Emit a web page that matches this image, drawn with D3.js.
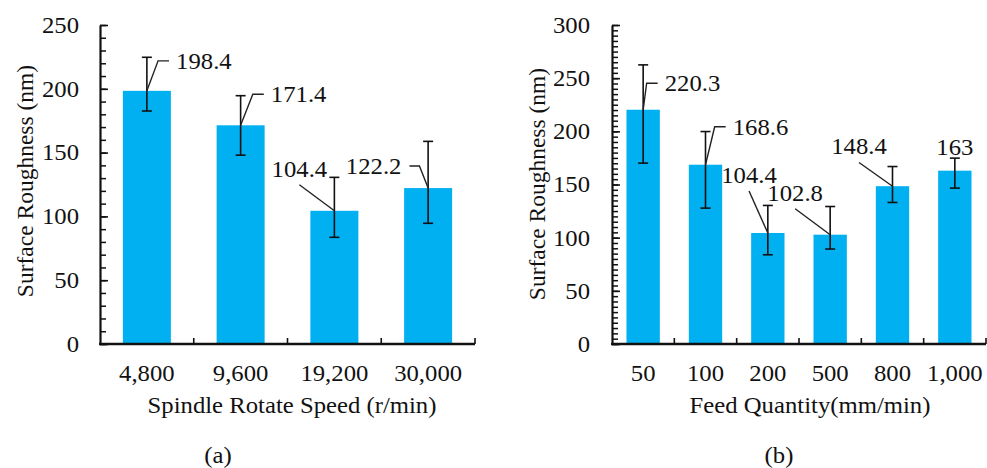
<!DOCTYPE html>
<html>
<head>
<meta charset="utf-8">
<script src="https://cdn.jsdelivr.net/npm/d3@7"></script>
<style>
  html, body { margin: 0; padding: 0; background: #fff; }
  svg { display: block; }
  text { font-family: "Liberation Serif", "Times New Roman", serif; fill: #111; }
</style>
</head>
<body>
<svg id="chart" width="987" height="468"></svg>
<script>
// (a) Surface roughness vs spindle rotate speed
const speedCategories = ["4,800", "9,600", "19,200", "30,000"];
const speedRoughness  = [198.4, 171.4, 104.4, 122.2];
const speedErrHigh    = [224.7, 194.6, 130.6, 158.8];
const speedErrLow     = [182.6, 148.0, 83.6, 94.6];
const speedYTicks     = [0, 50, 100, 150, 200, 250];

// (b) Surface roughness vs feed quantity
const feedCategories  = ["50", "100", "200", "500", "800", "1,000"];
const feedRoughness   = [220.3, 168.6, 104.4, 102.8, 148.4, 163];
const feedErrHigh     = [262.5, 199.8, 130.3, 129.3, 166.9, 174.8];
const feedErrLow      = [170.1, 127.8, 83.9, 89.3, 133.1, 146.6];
const feedYTicks      = [0, 50, 100, 150, 200, 250, 300];

// Data-label placement (offset of label centre from the bar top) and leader style
const speedLabelLayout = [
  { dx: 57, dy: -30, leader: "right" },
  { dx: 58, dy: -31, leader: "right" },
  { dx: -35, dy: -42, leader: "below" },
  { dx: -54.5, dy: -22, leader: "left" }
];
const feedLabelLayout = [
  { dx: 49.3, dy: -26.5, leader: "right" },
  { dx: 55, dy: -38, leader: "right" },
  { dx: -18.8, dy: -58, leader: "below" },
  { dx: -35, dy: -42, leader: "below" },
  { dx: -33.5, dy: -39.7, leader: "below" },
  { dx: 0, dy: -24, leader: "none" }
];

const FONT = 23;
const WIDEN = 1.075;          // horizontal text widening
const BAR_COLOR = "#00b0f0";
const svg = d3.select("#chart");

// widen horizontal text about its own anchor point
function widen(sel) {
  sel.each(function () {
    const t = d3.select(this);
    const x = +t.attr("x") || 0, y = +t.attr("y") || 0;
    t.attr("x", 0).attr("y", 0)
     .attr("transform", `translate(${x},${y}) scale(${WIDEN},1)`);
  });
}

function drawPanel(cfg) {
  const g = svg.append("g");
  const x = d3.scaleBand().domain(cfg.categories).range([cfg.x0, cfg.x1]).padding(0);
  const y = d3.scaleLinear().domain([0, cfg.yMax]).range([cfg.yBottom, cfg.yTop]);
  const barW = x.bandwidth() * cfg.barRatio;
  const cx = c => x(c) + x.bandwidth() / 2;

  const rows = cfg.categories.map((c, i) => ({
    c, v: cfg.values[i], hi: cfg.errHigh[i], lo: cfg.errLow[i], lab: cfg.labels[i]
  }));

  // bars
  g.selectAll("rect.bar").data(rows).enter().append("rect")
    .attr("class", "bar")
    .attr("x", d => cx(d.c) - barW / 2)
    .attr("width", barW)
    .attr("y", d => y(d.v))
    .attr("height", d => y(0) - y(d.v))
    .attr("fill", BAR_COLOR);

  // error bars
  const eb = g.selectAll("g.err").data(rows).enter().append("g").attr("class", "err")
    .attr("stroke", "#111").attr("stroke-width", 1.6);
  eb.append("line").attr("x1", d => cx(d.c)).attr("x2", d => cx(d.c))
    .attr("y1", d => y(d.hi)).attr("y2", d => y(d.lo));
  eb.append("line").attr("x1", d => cx(d.c) - 5).attr("x2", d => cx(d.c) + 5)
    .attr("y1", d => y(d.hi)).attr("y2", d => y(d.hi));
  eb.append("line").attr("x1", d => cx(d.c) - 5).attr("x2", d => cx(d.c) + 5)
    .attr("y1", d => y(d.lo)).attr("y2", d => y(d.lo));

  // minor y ticks
  const minorVals = d3.range(0, cfg.yMax + 0.001, cfg.minorStep);
  g.append("g").attr("transform", `translate(${cfg.x0},0)`)
    .call(d3.axisLeft(y).tickValues(minorVals).tickSizeInner(-6).tickSizeOuter(0).tickFormat(""))
    .call(s => s.select(".domain").remove())
    .call(s => s.selectAll("line").attr("stroke", "#111").attr("stroke-width", 1.5));

  // major y axis
  g.append("g").attr("transform", `translate(${cfg.x0},0)`)
    .call(d3.axisLeft(y).tickValues(cfg.yTicks).tickSizeInner(-8).tickSizeOuter(0).tickPadding(cfg.yPad))
    .call(s => s.select(".domain").attr("stroke", "#111").attr("stroke-width", 2.2))
    .call(s => s.selectAll("line").attr("stroke", "#111").attr("stroke-width", 1.6))
    .call(s => s.selectAll("text").style("font-size", FONT + "px").attr("fill", "#111")
      .style("font-family", '"Liberation Serif", serif').call(widen));

  // x axis with labels under each category
  g.append("g").attr("transform", `translate(0,${cfg.yBottom})`)
    .call(d3.axisBottom(x).tickSize(0).tickPadding(21))
    .call(s => s.select(".domain").attr("stroke", "#111").attr("stroke-width", 2.4)
      .attr("d", `M${cfg.x0 - 1},0H${cfg.x1}`))
    .call(s => s.selectAll("text").style("font-size", FONT + "px").attr("fill", "#111")
      .style("font-family", '"Liberation Serif", serif').call(widen));

  // category boundary ticks (pointing up)
  const bounds = cfg.categories.map(c => x(c) + x.bandwidth());
  g.selectAll("line.xb").data(bounds).enter().append("line")
    .attr("x1", d => d).attr("x2", d => d)
    .attr("y1", cfg.yBottom).attr("y2", cfg.yBottom - 6)
    .attr("stroke", "#111").attr("stroke-width", 1.6);

  // data labels + leader lines
  const leaderLayer = g.append("g").attr("fill", "none").attr("stroke", "#222").attr("stroke-width", 1.4);
  const labelLayer = g.append("g");
  rows.forEach(d => {
    const ax = cx(d.c), ay = y(d.v);
    const tx = ax + d.lab.dx, ty = ay + d.lab.dy;
    const t = labelLayer.append("text").attr("x", tx).attr("y", ty).attr("dy", "0.34em")
      .attr("text-anchor", "middle").style("font-size", FONT + "px").text(String(d.v));
    const w = t.node().getComputedTextLength() * WIDEN;
    t.call(widen);
    let pts = null;
    if (d.lab.leader === "right") {
      const left = tx - w / 2;
      pts = [[ax, ay], [left - 18, ty], [left - 7, ty]];
    } else if (d.lab.leader === "left") {
      const right = tx + w / 2;
      pts = [[ax, ay], [right + 18, ty], [right + 8, ty]];
    } else if (d.lab.leader === "below") {
      pts = [[ax, ay], [tx, ty + 16]];
    }
    if (pts) leaderLayer.append("path").attr("d", d3.line()(pts));
  });

  // axis titles and panel caption
  g.append("text").attr("x", cfg.xTitleX).attr("y", 405).attr("dy", "0.34em")
    .attr("text-anchor", "middle").style("font-size", FONT + "px").text(cfg.xTitle).call(widen);
  g.append("text").attr("transform", `translate(${cfg.yTitleX},${cfg.yTitleY}) rotate(-90)`)
    .attr("dy", "0.34em").attr("text-anchor", "middle").style("font-size", (FONT + 0.5) + "px")
    .text("Surface Roughness (nm)");
  g.append("text").attr("x", cfg.captionX).attr("y", 455).attr("dy", "0.34em")
    .attr("text-anchor", "middle").style("font-size", FONT + "px").text(cfg.caption).call(widen);
}

drawPanel({
  categories: speedCategories, values: speedRoughness, errHigh: speedErrHigh, errLow: speedErrLow,
  yTicks: speedYTicks, yMax: 250, minorStep: 10, labels: speedLabelLayout,
  x0: 100, x1: 475, yBottom: 344, yTop: 25, barRatio: 0.512, yPad: 21,
  xTitle: "Spindle Rotate Speed (r/min)", xTitleX: 292, yTitleX: 25, yTitleY: 181,
  caption: "(a)", captionX: 218
});

drawPanel({
  categories: feedCategories, values: feedRoughness, errHigh: feedErrHigh, errLow: feedErrLow,
  yTicks: feedYTicks, yMax: 300, minorStep: 5, labels: feedLabelLayout,
  x0: 612, x1: 986, yBottom: 344, yTop: 25, barRatio: 0.535, yPad: 22,
  xTitle: "Feed Quantity(mm/min)", xTitleX: 810, yTitleX: 537, yTitleY: 184,
  caption: "(b)", captionX: 779
});
</script>
</body>
</html>
